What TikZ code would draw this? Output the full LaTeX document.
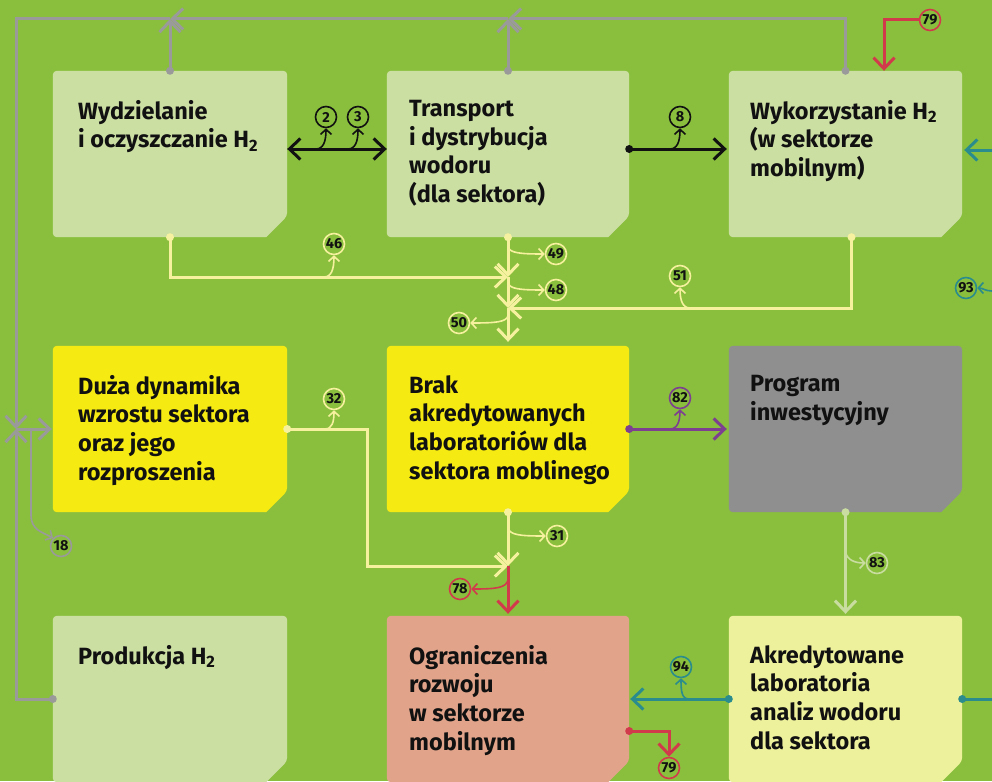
\documentclass[tikz,border=0pt]{standalone}
\usepackage{fontspec}
\setmainfont{Fira Sans}
\usetikzlibrary{arrows.meta}

\definecolor{bg}{HTML}{8ABF3E}
\definecolor{boxlg}{HTML}{CCDFA3}
\definecolor{boxyl}{HTML}{F5EA12}
\definecolor{boxgr}{HTML}{8F8F8F}
\definecolor{boxsa}{HTML}{E1A48B}
\definecolor{boxpy}{HTML}{EEF19C}
\definecolor{lngray}{HTML}{9A9A9A}
\definecolor{lnyel}{HTML}{F6F19E}
\definecolor{lnred}{HTML}{D13A4B}
\definecolor{lnpur}{HTML}{7D3F8F}
\definecolor{lnteal}{HTML}{2A8C8C}
\definecolor{lnlg}{HTML}{C9DDA0}
\definecolor{ink}{HTML}{111111}

% box with rounded corners and a cut lower right corner
\newcommand\cutbox[2]{%
  \fill[#2] ([yshift=21pt]#1.south east) -- ([xshift=-21pt]#1.south east)
    [rounded corners=4pt] -- (#1.south west) -- (#1.north west) -- (#1.north east) -- cycle;}

\tikzset{
  x=1pt, y=-1pt,
  frame/.style={minimum width=234pt, minimum height=166pt, inner sep=0pt, draw=none},
  txt/.style={anchor=north west, inner sep=0pt, align=left, text=ink,
    font=\bfseries\fontsize{23.5}{28.7}\selectfont},
  conn/.style={line width=3pt},
  big/.tip={Straight Barb[length=11pt,width=21pt]},
  ann/.style={line width=1.6pt, -{Straight Barb[length=5pt,width=11pt]}},
  tag/.style={circle, minimum size=21pt, inner sep=0pt, line width=1.6pt, fill=bg,
    text=ink, font=\bfseries\fontsize{14.5}{14.5}\selectfont},
}

\begin{document}
\begin{tikzpicture}
\useasboundingbox (0,0) rectangle (992,781);
\clip (0,0) rectangle (992,781);
\fill[bg] (0,0) rectangle (992,781);

% boxes
\node[frame] (wyd) at (170,154) {};
\node[frame, minimum width=242pt] (trs) at (508,154) {};
\node[frame, minimum width=233pt] (wyk) at (845.5,154) {};
\node[frame] (duz) at (170,429) {};
\node[frame, minimum width=242pt] (brk) at (508,429) {};
\node[frame, minimum width=233pt] (prg) at (845.5,429) {};
\node[frame] (prd) at (170,699) {};
\node[frame, minimum width=242pt] (ogr) at (508,699) {};
\node[frame, minimum width=233pt] (akr) at (845.5,699) {};

\cutbox{wyd}{boxlg}
\cutbox{trs}{boxlg}
\cutbox{wyk}{boxlg}
\cutbox{duz}{boxyl}
\cutbox{brk}{boxyl}
\cutbox{prg}{boxgr}
\cutbox{prd}{boxlg}
\cutbox{ogr}{boxsa}
\cutbox{akr}{boxpy}

% box texts
\node[txt] (wydT) at (78,100) {Wydzielanie\\i oczyszczanie H\textsubscript{2}};
\node[txt] (trsT) at (409,100) {Transport\\i dystrybucja\\wodoru\\(dla sektora)};
\node[txt] (wykT) at (750,100) {Wykorzystanie H\textsubscript{2}\\(w sektorze\\mobilnym)};
\node[txt] (duzT) at (78,375) {Duża dynamika\\wzrostu sektora\\oraz jego\\rozproszenia};
\node[txt] (brkT) at (409,375) {Brak\\akredytowanych\\laboratoriów dla\\sektora moblinego};
\node[txt] (prgT) at (750,375) {Program\\inwestycyjny};
\node[txt] (prdT) at (78,645) {Produkcja H\textsubscript{2}};
\node[txt] (ogrT) at (409,645) {Ograniczenia\\rozwoju\\w sektorze\\mobilnym};
\node[txt] (akrT) at (750,645) {Akredytowane\\laboratoria\\analiz wodoru\\dla sektora};

% junction points
\coordinate (gA) at (170,19);
\coordinate (gB) at (508,19);
\coordinate (gL) at (16,19);
\coordinate (gM) at (16,429);
\coordinate (gQ) at (31,429);
\coordinate (gR) at (31,515);
\coordinate (y1) at (508,277);
\coordinate (y2) at (508,308);
\coordinate (yK) at (367,429);
\coordinate (y3) at (508,566);
\coordinate (rC) at (884,20);
\coordinate (eR) at (992,150);
\coordinate (eT) at (992,699);

% numbered tags
\node[tag, draw=ink] (t2) at (326,117) {2};
\node[tag, draw=ink] (t3) at (358,117) {3};
\node[tag, draw=ink] (t8) at (680,117) {8};
\node[tag, draw=lnred] (t79a) at (930,20) {79};
\node[tag, draw=lnyel] (t46) at (334,244) {46};
\node[tag, draw=lnyel] (t49) at (556,254) {49};
\node[tag, draw=lnyel] (t48) at (556,290) {48};
\node[tag, draw=lnyel] (t50) at (459,323) {50};
\node[tag, draw=lnyel] (t51) at (680,276) {51};
\node[tag, draw=lnteal] (t93) at (966,288) {93};
\node[tag, draw=lnyel] (t32) at (334,399) {32};
\node[tag, draw=lnpur] (t82) at (680,398) {82};
\node[tag, draw=lngray] (t18) at (61,546) {18};
\node[tag, draw=lnyel] (t31) at (557,536) {31};
\node[tag, draw=lnlg] (t83) at (877,563) {83};
\node[tag, draw=lnred] (t78) at (460,589) {78};
\node[tag, draw=lnteal] (t94) at (681,667) {94};
\node[tag, draw=lnred] (t79b) at (669,768) {79};

% gray feedback loop
\draw[conn, lngray, -big] (wyk.north) -- (wyk.north |- gB) -- (gB);
\draw[conn, lngray, -big] (trs.north) -- (gB);
\draw[conn, lngray, -big] (gB) -- (gA);
\draw[conn, lngray, -big] (wyd.north) -- (gA);
\draw[conn, lngray, -big] (gA) -- (gL) -- (gM);
\draw[conn, lngray, -big] (prd.west) -- (prd.west -| gL) -- (gM);
\draw[conn, lngray, -big, shorten >=1pt] (gM) -- (duz.west);
\draw[ann, lngray] (gQ) -- (gR) .. controls (31,530) and (42,532) .. (t18.north west);
\foreach \p in {wyk.north, trs.north, wyd.north, prd.west}
  \fill[lngray] (\p) circle (4pt);

% black links in the top row
\draw[conn, ink, big-big] ([yshift=5pt]wyd.east) -- ([yshift=5pt]trs.west);
\draw[conn, ink, -big, shorten >=2pt] ([yshift=5pt]trs.east) -- ([yshift=5pt]wyk.west);
\fill[ink] ([yshift=5pt]trs.east) circle (4pt);
\coordinate (s2) at (316,149);
\coordinate (s3) at (348,149);
\coordinate (s8) at (670,149);
\draw[ann, ink] (s2) .. controls (323,149) and (326,142) .. (t2.south);
\draw[ann, ink] (s3) .. controls (355,149) and (358,142) .. (t3.south);
\draw[ann, ink] (s8) .. controls (677,149) and (680,142) .. (t8.south);

% pale yellow links
\draw[conn, lnyel, -big] (wyd.south) -- (wyd.south |- y1) -- (y1);
\draw[conn, lnyel, -big] (trs.south) -- (y1);
\draw[conn, lnyel, -big] (y1) -- (y2);
\draw[conn, lnyel, -big] ([xshift=6pt]wyk.south) |- (y2);
\draw[conn, lnyel, -big, shorten >=4pt] (y2) -- (brk.north);
\draw[conn, lnyel, -big] (duz.east) -- (yK) |- (y3);
\draw[conn, lnyel, -big] (brk.south) -- (y3);
\foreach \p in {wyd.south, trs.south, duz.east, brk.south}
  \fill[lnyel] (\p) circle (4pt);
\fill[lnyel] ([xshift=6pt]wyk.south) circle (4pt);

\coordinate (s46) at (324,277);
\coordinate (s49) at (508,247);
\coordinate (s48) at (508,283);
\coordinate (s50) at (508,316);
\coordinate (s51) at (690,308);
\coordinate (s32) at (325,429);
\coordinate (s31) at (508,528);
\draw[ann, lnyel] (s46) .. controls (331,277) and (334,270) .. (t46.south);
\draw[ann, lnyel] (s49) .. controls (510,253) and (520,254) .. (t49.west);
\draw[ann, lnyel] (s48) .. controls (510,289) and (520,290) .. (t48.west);
\draw[ann, lnyel] (s50) .. controls (506,322) and (496,323) .. (t50.east);
\draw[ann, lnyel] (s51) .. controls (683,308) and (680,301) .. (t51.south);
\draw[ann, lnyel] (s32) .. controls (332,429) and (334,422) .. (t32.south);
\draw[ann, lnyel] (s31) .. controls (510,535) and (520,536) .. (t31.west);

% red links
\draw[conn, lnred, -big, shorten >=2pt] (y3) -- (ogr.north);
\coordinate (s78) at (508,580);
\draw[ann, lnred] (s78) .. controls (506,588) and (496,589) .. (t78.east);
\draw[conn, lnred, -big] (t79a.west) -- (rC) -- (rC |- wyk.north);
\draw[conn, lnred, -big] ([yshift=-32pt]ogr.east) -| (t79b.north);
\fill[lnred] ([yshift=-32pt]ogr.east) circle (4pt);

% purple link
\draw[conn, lnpur, -big, shorten >=2pt] (brk.east) -- (prg.west);
\fill[lnpur] (brk.east) circle (4pt);
\coordinate (s82) at (670,429);
\draw[ann, lnpur] (s82) .. controls (677,429) and (680,422) .. (t82.south);

% light green link
\draw[conn, lnlg, -big, shorten >=2pt] (prg.south) -- (akr.north);
\fill[lnlg] (prg.south) circle (4pt);
\coordinate (s83) at (845.5,552);
\draw[ann, lnlg] (s83) .. controls (847,560) and (855,563) .. (t83.west);

% teal links
\draw[conn, lnteal, -big, shorten >=1pt] (akr.west) -- (ogr.east);
\draw[conn, lnteal] (akr.east) -- (eT);
\fill[lnteal] (akr.west) circle (4pt);
\fill[lnteal] (akr.east) circle (4pt);
\draw[conn, lnteal, -big, shorten >=2pt] (eR) -- (eR -| wyk.east);
\coordinate (s94) at (689,699);
\draw[ann, lnteal] (s94) .. controls (682,699) and (681,692) .. (t94.south);
\coordinate (s93) at (992,291);
\draw[ann, lnteal] (s93) .. controls (985,291) and (983,288) .. (t93.east);
\end{tikzpicture}
\end{document}
